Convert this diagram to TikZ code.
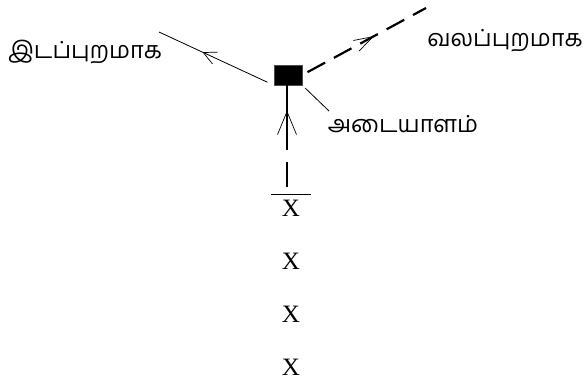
\documentclass[tikz,border=0pt]{standalone}
\usepackage{fontspec}
\setmainfont{Liberation Serif}
\newfontfamily\tamil[Script=Tamil]{Hind Madurai}
\usetikzlibrary{arrows.meta,decorations.markings}

\tikzset{
  midbarb/.style args={#1/#2/#3}{postaction={decorate},
    decoration={markings, mark=at position #1 with
      {\arrow{Straight Barb[length=#2pt, width=#3pt, line width=0.7pt]}}}},
  tlabel/.style={font=\tamil\fontsize{23.5}{26}\selectfont, inner sep=0pt},
  xmark/.style={font=\fontsize{25}{28}\selectfont, inner sep=0pt}
}

\begin{document}
\begin{tikzpicture}[x=1pt, y=-1pt]
  \useasboundingbox (0,0) rectangle (586,383);
  % the tag and its labels
  \node[fill=black, draw=black!70, minimum width=28pt, minimum height=20pt, inner sep=0pt] (tag) at (288,75) {};
  \node[tlabel] (idam) at (85,52) {இடப்புறமாக};
  \node[tlabel] (valam) at (505,41) {வலப்புறமாக};
  \node[tlabel] (adai) at (403,124) {அடையாளம்};
  \coordinate (lft) at (159,32);
  \coordinate (rgt) at (426,8);
  \coordinate (aend) at (329,111);
  \coordinate (stem) at (287,187);
  % branches
  \draw[line width=0.8pt, shorten <=7pt, midbarb=0.62/13/13] (tag.south west) -- (lft);
  \draw[line width=2.2pt, dash pattern=on 20pt off 10pt, shorten <=6pt, midbarb=0.58/19/12] (tag.east) -- (rgt);
  \draw[line width=0.8pt, shorten <=4pt] (tag.south east) -- (aend);
  \draw[line width=2pt, dash pattern=on 25pt off 12pt on 63pt off 0pt, midbarb=0.75/23/19] (stem) -- (stem |- tag.south);
  % the column of marks
  \foreach \i in {1,...,4}
    \node[xmark] (x\i) at (291,155+53*\i) {X};
  \draw[line width=0.8pt] ([xshift=-20pt,yshift=5pt]x1.north) -- ([xshift=20pt,yshift=5pt]x1.north);
\end{tikzpicture}
\end{document}
